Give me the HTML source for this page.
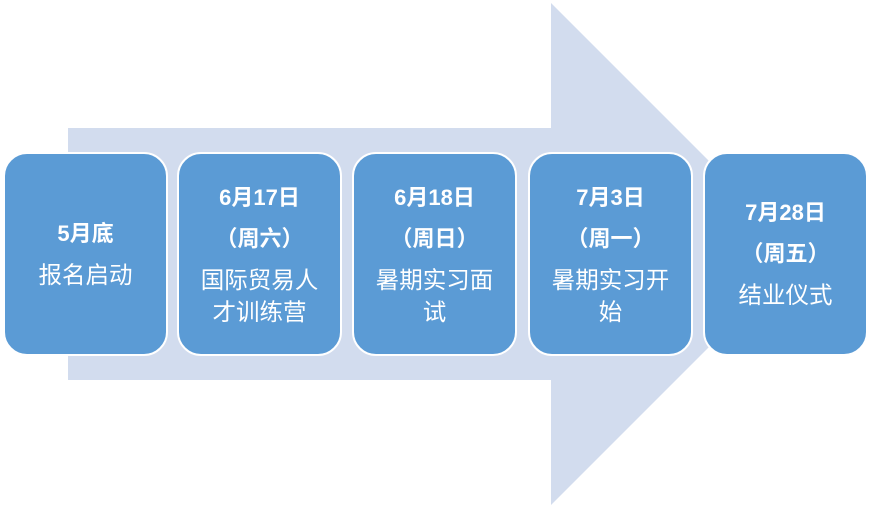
<!DOCTYPE html>
<html><head><meta charset="utf-8"><style>
body{margin:0;width:871px;height:508px;background:#fff;position:relative;overflow:hidden;font-family:"Liberation Sans","Noto Sans CJK SC",sans-serif;}
.b{position:absolute;top:152px;height:200px;width:161px;background:#5b9bd5;border:2px solid #fff;border-radius:24px;color:#fff;}
.l{position:absolute;left:-10px;right:-10px;text-align:center;font-size:23.5px;line-height:26px;white-space:nowrap;}
.bd{font-weight:bold;font-size:22px;}
</style></head><body>
<svg width="871" height="508" style="position:absolute;left:0;top:0">
<polygon points="68,128 551,128 551,3 802,254 551,505 551,380 68,380" fill="#d2dcee"/>
</svg>
<div class="b" style="left:3px"><div class="l bd" style="top:67px">5月底</div><div class="l" style="top:108px">报名启动</div></div>
<div class="b" style="left:177px"><div class="l bd" style="top:31px">6月17日</div><div class="l bd" style="top:72px">（周六）</div><div class="l" style="top:113px">国际贸易人</div><div class="l" style="top:145px">才训练营</div></div>
<div class="b" style="left:352px"><div class="l bd" style="top:31px">6月18日</div><div class="l bd" style="top:72px">（周日）</div><div class="l" style="top:113px">暑期实习面</div><div class="l" style="top:145px">试</div></div>
<div class="b" style="left:528px"><div class="l bd" style="top:31px">7月3日</div><div class="l bd" style="top:72px">（周一）</div><div class="l" style="top:113px">暑期实习开</div><div class="l" style="top:145px">始</div></div>
<div class="b" style="left:703px"><div class="l bd" style="top:46px">7月28日</div><div class="l bd" style="top:87px">（周五）</div><div class="l" style="top:128px">结业仪式</div></div>
</body></html>
